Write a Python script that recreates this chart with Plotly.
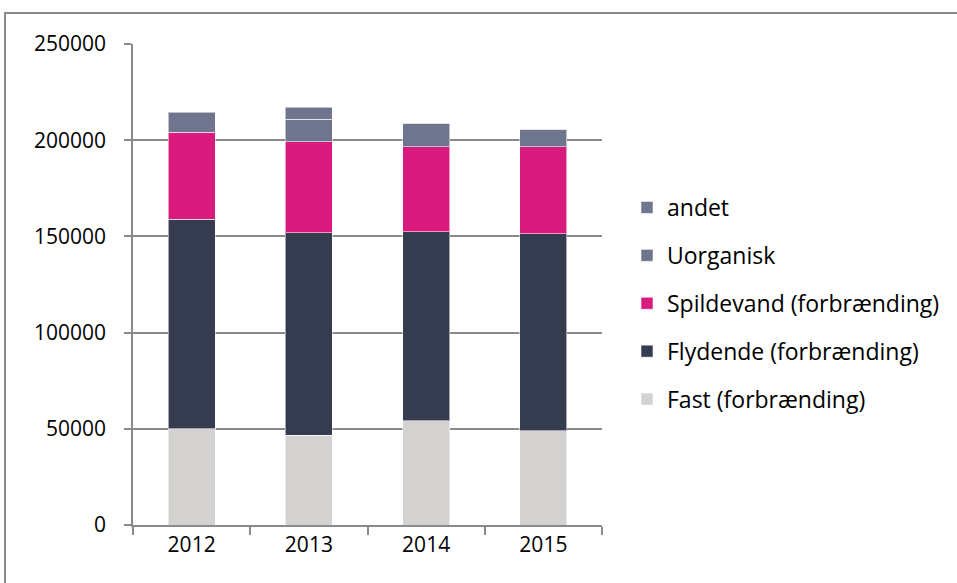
import plotly.graph_objects as go

years = ["2012", "2013", "2014", "2015"]
fast = [50000, 46600, 54200, 49000]
flydende = [109000, 105200, 98100, 102400]
spildevand = [45100, 47400, 44300, 45200]
uorganisk = [10200, 11600, 12200, 9100]
andet = [300, 6400, 0, 0]

series = [
    ("Fast (forbrænding)", fast, "#D3D2D0"),
    ("Flydende (forbrænding)", flydende, "#363C50"),
    ("Spildevand (forbrænding)", spildevand, "#D91B80"),
    ("Uorganisk", uorganisk, "#6F758D"),
    ("andet", andet, "#6F758D"),
]

fig = go.Figure()
for i, (name, vals, col) in enumerate(series):
    fig.add_trace(go.Bar(
        x=years, y=vals, name=name, legendgroup=f"g{i}", legendrank=100 - i,
        marker=dict(color=col, line=dict(color="rgba(255,255,255,0.55)", width=1)),
    ))

FONT = "Open Sans"
L, R, T, B = 133, 355, 44, 58
W, H = 957, 583
pw = W - L - R
ph = H - T - B

fig.update_layout(
    width=W, height=H,
    margin=dict(l=L, r=R, t=T, b=B, autoexpand=False),
    barmode="stack", bargap=0.6,
    plot_bgcolor="white", paper_bgcolor="white",
    font=dict(family=FONT, size=21, color="black"),
    showlegend=True,
    legend=dict(
        traceorder="grouped", tracegroupgap=15,
        x=(627 - L) / pw, xanchor="left",
        y=(H - B - 186) / ph, yanchor="top",
        font=dict(size=23, family=FONT), bgcolor="rgba(0,0,0,0)",
    ),
    xaxis=dict(
        showline=True, linecolor="#8a8a8a", linewidth=1.5, automargin=False,
        ticks="outside", tickson="boundaries", ticklen=8, tickcolor="#8a8a8a", tickwidth=1.5,
        ticklabelstandoff=0,
        showgrid=False, tickfont=dict(size=21, family=FONT),
    ),
    yaxis=dict(
        range=[0, 250000], dtick=50000, tickformat="d", automargin=False,
        showline=True, linecolor="#8a8a8a", linewidth=1.5,
        ticks="outside", ticklen=7, tickcolor="#8a8a8a", tickwidth=1.5,
        ticklabelstandoff=14,
        showgrid=True, gridcolor="#8a8a8a", gridwidth=1.5,
        zeroline=False, tickfont=dict(size=21, family=FONT),
    ),
    shapes=[dict(
        type="rect", xref="paper", yref="paper",
        x0=(5 - L) / pw, x1=(W + 5 - L) / pw,
        y0=(H - B - (H + 10)) / ph, y1=(H - B - 13) / ph,
        line=dict(color="#8a8a8a", width=2), fillcolor="rgba(0,0,0,0)", layer="below",
    )],
)

fig.write_html("out.html", config={"displayModeBar": False},
               post_script="document.body.style.margin='0';")
